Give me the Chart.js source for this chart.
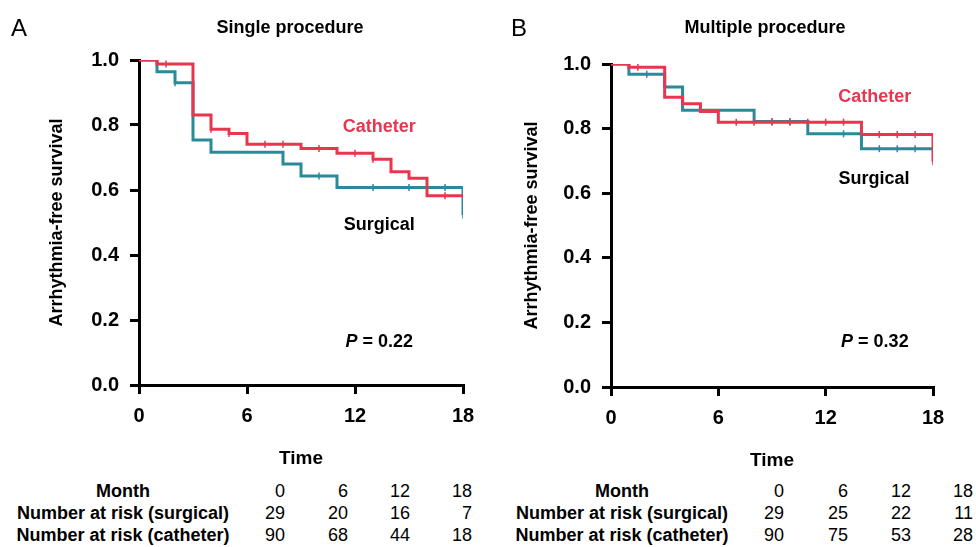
<!DOCTYPE html>
<html>
<head>
<meta charset="utf-8">
<script src="https://cdn.jsdelivr.net/npm/chart.js@4.4.0/dist/chart.umd.min.js"></script>
<style>
    html, body { margin: 0; padding: 0; background: #fff; }
    #pagina { position: relative; width: 976px; height: 547px; overflow: hidden;
              font-family: "Liberation Sans", Arial, sans-serif; color: #000; }
    canvas { position: absolute; top: 0; }
    .txt { position: absolute; white-space: nowrap; line-height: 1; }
</style>
</head>
<body>
<div id="pagina">
    <canvas id="graficoA" width="488" height="474" style="left:0"></canvas>
    <canvas id="graficoB" width="488" height="476" style="left:488px"></canvas>
</div>
<script>
// ------------------------------ Datos ------------------------------
const meses = [0, 6, 12, 18];
const ticksY = [0, 0.2, 0.4, 0.6, 0.8, 1.0];

// A - Single procedure
const surgA_t = [0, 1, 2, 3, 4, 8, 9, 11, 18];
const surgA_s = [1.0, 0.964, 0.930, 0.754, 0.716, 0.680, 0.643, 0.608, 0.523];
const surgA_cens = [2, 10, 13, 15, 17, 18];
const cathA_t = [0, 1, 3, 4, 5, 6, 9, 11, 13, 14, 15, 16, 18];
const cathA_s = [1.0, 0.988, 0.831, 0.787, 0.774, 0.741, 0.728, 0.713, 0.695, 0.656, 0.636, 0.582, 0.582];
const cathA_cens = [1.5, 4, 5, 7, 8, 10, 12, 13, 17];
const riesgoSurgA = [29, 20, 16, 7];
const riesgoCathA = [90, 68, 44, 18];

// B - Multiple procedure
const surgB_t = [0, 1, 3, 4, 8, 11, 14, 18];
const surgB_s = [1.0, 0.968, 0.929, 0.857, 0.822, 0.784, 0.738, 0.738];
const surgB_cens = [2, 9, 10, 13, 15, 16, 17];
const cathB_t = [0, 1, 3, 4, 5, 6, 14, 18];
const cathB_s = [1.0, 0.990, 0.897, 0.877, 0.853, 0.820, 0.782, 0.697];
const cathB_cens = [1.5, 7, 8, 9, 10, 11, 12, 13, 15, 16, 17, 18];
const riesgoSurgB = [29, 25, 22, 11];
const riesgoCathB = [90, 75, 53, 28];

const ROJO = "#e8364f";
const VERDE = "#2b8a99";
const FUENTE = '"Liberation Sans", Arial, sans-serif';

Chart.defaults.font.family = FUENTE;
Chart.defaults.color = "#000";

// ------------------------------ Utilidades ------------------------------
function puntos(t, s) {
    return t.map((x, i) => ({ x: x, y: s[i] }));
}

// valor de la curva en el tiempo t (para las marcas de censura)
function supervivencia(t, s, tiempo) {
    let v = s[0];
    t.forEach((x, i) => { if (x <= tiempo) v = s[i]; });
    return v;
}

function censuras(t, s, cens) {
    return cens.map(c => ({ x: c, y: supervivencia(t, s, c) }));
}

const pagina = document.getElementById("pagina");

function ponerTexto(txt, x, y, align, css) {
    const el = document.createElement("div");
    el.className = "txt";
    el.textContent = txt;
    el.style.left = x + "px";
    el.style.top = y + "px";
    const tx = align === "center" ? "-50%" : align === "right" ? "-100%" : "0";
    el.style.transform = `translate(${tx}, -50%)`;
    Object.assign(el.style, css || {});
    pagina.appendChild(el);
}

// ------------------------------ Etiquetas dentro del gráfico ------------------------------
const pluginEtiquetas = {
    id: "etiquetasKM",
    afterDatasetsDraw(chart, args, opts) {
        const { ctx, scales: { x, y } } = chart;
        ctx.save();
        ctx.textBaseline = "middle";
        ctx.textAlign = "center";
        ctx.font = `bold 18px ${FUENTE}`;
        ctx.fillStyle = ROJO;
        ctx.fillText("Catheter", x.getPixelForValue(opts.cath[0]), y.getPixelForValue(opts.cath[1]));
        ctx.fillStyle = "#000";
        ctx.fillText("Surgical", x.getPixelForValue(opts.surg[0]), y.getPixelForValue(opts.surg[1]));

        // P en cursiva + resto en negrita
        const resto = " = " + opts.p;
        ctx.font = `italic bold 18px ${FUENTE}`;
        const wP = ctx.measureText("P").width;
        ctx.font = `bold 18px ${FUENTE}`;
        const wR = ctx.measureText(resto).width;
        const px = x.getPixelForValue(opts.pPos[0]) - (wP + wR) / 2;
        const py = y.getPixelForValue(opts.pPos[1]);
        ctx.textAlign = "left";
        ctx.font = `italic bold 18px ${FUENTE}`;
        ctx.fillText("P", px, py);
        ctx.font = `bold 18px ${FUENTE}`;
        ctx.fillText(resto, px + wP, py);
        ctx.restore();
    }
};

// ------------------------------ Crear un panel ------------------------------
function crearPanel(id, cfg) {
    const ctx = document.getElementById(id).getContext("2d");
    const ejeComun = {
        border: { display: true, color: "#000", width: 3 },
        grid: { drawOnChartArea: false, drawTicks: true, tickLength: 9, tickWidth: 3, tickColor: "#000", color: "#000", lineWidth: 3 }
    };
    return new Chart(ctx, {
        type: "line",
        data: {
            datasets: [
                { data: puntos(cfg.cathT, cfg.cathS), borderColor: ROJO, borderWidth: 3, stepped: true, pointRadius: 0, fill: false },
                { data: censuras(cfg.cathT, cfg.cathS, cfg.cathC), borderColor: ROJO, backgroundColor: ROJO, showLine: false,
                  pointStyle: "line", rotation: 90, pointRadius: 3.5, borderWidth: 1.5 },
                { data: puntos(cfg.surgT, cfg.surgS), borderColor: VERDE, borderWidth: 3, stepped: true, pointRadius: 0, fill: false },
                { data: censuras(cfg.surgT, cfg.surgS, cfg.surgC), borderColor: VERDE, backgroundColor: VERDE, showLine: false,
                  pointStyle: "line", rotation: 90, pointRadius: 3.5, borderWidth: 1.5 }
            ]
        },
        options: {
            responsive: false,
            animation: false,
            events: [],
            layout: { padding: { left: cfg.padIzq, right: cfg.padDer, top: cfg.padSup, bottom: 0 } },
            plugins: {
                legend: { display: false },
                tooltip: { enabled: false },
                etiquetasKM: { cath: cfg.etqCath, surg: cfg.etqSurg, p: cfg.p, pPos: cfg.pPos }
            },
            scales: {
                x: {
                    ...ejeComun,
                    type: "linear",
                    min: 0,
                    max: 18,
                    afterBuildTicks: s => { s.ticks = meses.map(v => ({ value: v })); },
                    afterFit: s => { s.height = cfg.altoX; },
                    ticks: { font: { size: 20, weight: "bold" }, padding: 10, maxRotation: 0 },
                    title: { display: true, text: "Time", font: { size: 19, weight: "bold" }, padding: { top: 4, bottom: 4 } }
                },
                y: {
                    ...ejeComun,
                    min: 0,
                    max: 1,
                    afterBuildTicks: s => { s.ticks = ticksY.map(v => ({ value: v })); },
                    afterFit: s => { s.width = cfg.anchoY; },
                    ticks: { font: { size: 20, weight: "bold" }, padding: 11, callback: v => v.toFixed(1) },
                    title: { display: true, text: "Arrhythmia-free survival", font: { size: 18, weight: "bold" }, padding: { top: 4, bottom: 4 } }
                }
            }
        },
        plugins: [pluginEtiquetas]
    });
}

crearPanel("graficoA", {
    surgT: surgA_t, surgS: surgA_s, surgC: surgA_cens,
    cathT: cathA_t, cathS: cathA_s, cathC: cathA_cens,
    padIzq: 42, padDer: 25, padSup: 60, anchoY: 97, altoX: 89,
    etqCath: [13.35, 0.795], etqSurg: [13.35, 0.492], p: "0.22", pPos: [13.35, 0.133]
});

crearPanel("graficoB", {
    surgT: surgB_t, surgS: surgB_s, surgC: surgB_cens,
    cathT: cathB_t, cathS: cathB_s, cathC: cathB_cens,
    padIzq: 29, padDer: 43, padSup: 64, anchoY: 94, altoX: 89,
    etqCath: [14.75, 0.899], etqSurg: [14.7, 0.643], p: "0.32", pPos: [14.75, 0.139]
});

// ------------------------------ Textos fuera del gráfico ------------------------------
ponerTexto("A", 11, 28, "left", { fontSize: "24px" });
ponerTexto("B", 511, 28, "left", { fontSize: "24px" });
ponerTexto("Single procedure", 290, 27, "center", { fontSize: "18px", fontWeight: "bold" });
ponerTexto("Multiple procedure", 765, 27, "center", { fontSize: "18px", fontWeight: "bold" });

// Tabla de pacientes en riesgo
function tablaRiesgo(centroEtq, columnas, surg, cath) {
    const filas = [491, 513, 535];
    const etiquetas = ["Month", "Number at risk (surgical)", "Number at risk (catheter)"];
    const valores = [meses, surg, cath];
    etiquetas.forEach((e, i) => {
        ponerTexto(e, centroEtq, filas[i], "center", { fontSize: "18px", fontWeight: "bold" });
        valores[i].forEach((v, j) => {
            ponerTexto(String(v), columnas[j], filas[i], "right", { fontSize: "18px" });
        });
    });
}

tablaRiesgo(123, [285, 348, 410, 472], riesgoSurgA, riesgoCathA);
tablaRiesgo(622, [784, 848, 911, 973], riesgoSurgB, riesgoCathB);
</script>
</body>
</html>
